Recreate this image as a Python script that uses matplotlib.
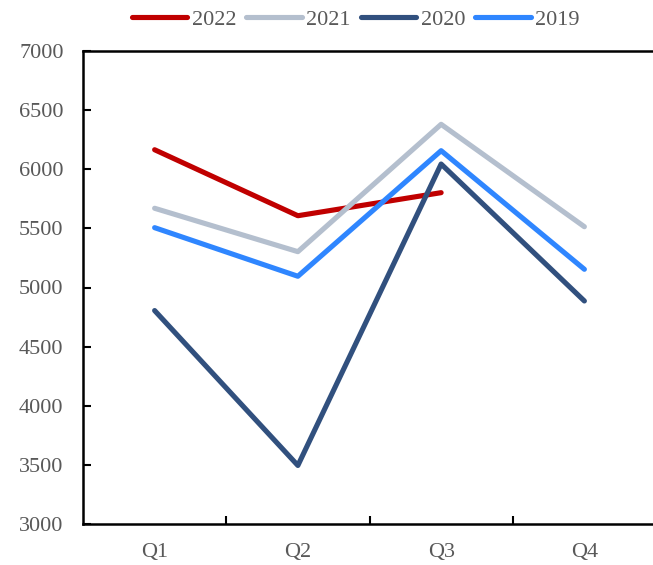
import matplotlib
matplotlib.use("Agg")
import matplotlib.pyplot as plt
from matplotlib.ticker import FixedLocator

quarters = ["Q1", "Q2", "Q3", "Q4"]
years = ["2022", "2021", "2020", "2019"]
values_2022 = [6165, 5607, 5802]
values_2021 = [5670, 5303, 6380, 5514]
values_2020 = [4805, 3495, 6044, 4886]
values_2019 = [5506, 5095, 6157, 5154]
colors = ["#C00000", "#B4BFCE", "#31507E", "#2F86FF"]
yticks = [3000, 3500, 4000, 4500, 5000, 5500, 6000, 6500, 7000]

plt.rcParams["font.family"] = ["Liberation Serif", "DejaVu Serif"]
text_color = "#595959"

fig = plt.figure(figsize=(6.53, 5.65), dpi=100)
ax = fig.add_axes([83 / 653, 41 / 565, 573 / 653, 473 / 565])

series = [values_2022, values_2021, values_2020, values_2019]
for name, vals, col in zip(years, series, colors):
    ax.plot(range(len(vals)), vals, color=col, lw=3.7, label=name,
            solid_capstyle="round", solid_joinstyle="round")

ax.set_xlim(-0.5, len(quarters) - 0.5)
ax.set_ylim(3000, 7000)
ax.set_yticks(yticks)
ax.set_xticks(range(len(quarters)))
ax.set_xticklabels(quarters)
ax.xaxis.set_minor_locator(FixedLocator([0.5, 1.5, 2.5]))

ax.tick_params(axis="x", which="major", length=0, pad=14, labelsize=16,
               labelcolor=text_color)
ax.tick_params(axis="x", which="minor", direction="in", length=6, width=1.5,
               color="black")
ax.tick_params(axis="y", direction="in", length=6, width=1.5, pad=14,
               labelsize=16, labelcolor=text_color)

for side in ["left", "bottom", "top"]:
    ax.spines[side].set_linewidth(1.8)
    ax.spines[side].set_color("black")
ax.spines["right"].set_visible(False)

leg = fig.legend(loc="center", bbox_to_anchor=(0.545, 1 - 20 / 565), ncol=4,
                 frameon=False, fontsize=16, handlelength=2.5,
                 handletextpad=0.2, columnspacing=0.45, labelcolor=text_color)

fig.savefig("out.png", dpi=100)
